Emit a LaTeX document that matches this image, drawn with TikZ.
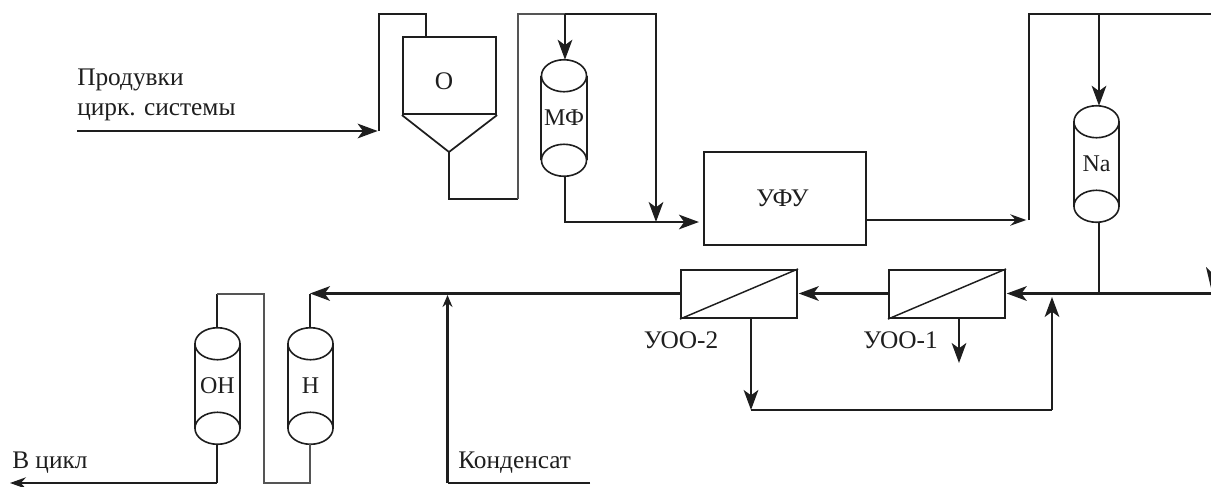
\documentclass[tikz,border=0pt]{standalone}
\usepackage{fontspec}
\setmainfont{Liberation Serif}
\usetikzlibrary{arrows.meta,calc}
\definecolor{ink}{HTML}{1E1E1E}
\definecolor{inksoft}{HTML}{555555}
\tikzset{
  px/.style={x=0.75pt,y=-0.75pt},
  pipe/.style={draw=ink,line width=1.6pt,line join=miter},
  thinpipe/.style={draw=ink,line width=1pt},
  softpipe/.style={draw=inksoft,line width=1.2pt},
  tipbig/.style={-{Stealth[length=15pt,width=11pt,inset=4pt]}},
  tipmid/.style={-{Stealth[length=12pt,width=8.5pt,inset=4pt]}},
  tipsmall/.style={-{Stealth[length=9pt,width=7.5pt,inset=3pt]}},
  apparatus/.style={draw=ink,line width=1.6pt,inner sep=0pt,fill=white},
  vessel/.style={inner sep=0pt,minimum width=33.75pt,minimum height=87pt,font=\fontsize{18pt}{22pt}\selectfont,text=ink},
  label/.style={inner sep=0pt,font=\fontsize{19pt}{23pt}\selectfont,text=ink},
  textleft/.style={label,anchor=west,align=left},
}
% name, centre x, centre y, text
\newcommand{\vesselunit}[4]{%
  \node[vessel] (#1) at (#2,#3) {#4};
  \draw[draw=ink,line width=1.2pt] (#1.north west) ++(0,-12pt) -- ++(0,-63pt);
  \draw[draw=ink,line width=1.2pt] (#1.north east) ++(0,-12pt) -- ++(0,-63pt);
  \draw[draw=ink,line width=1.2pt] ($(#1.north)+(0,-12pt)$) circle[x radius=16.9pt,y radius=12pt];
  \draw[draw=ink,line width=1.2pt] ($(#1.south)+(0,12pt)$) circle[x radius=16.9pt,y radius=12pt];
}
\begin{document}
\begin{tikzpicture}[px]
\useasboundingbox (0,0) rectangle (1211,486);
% apparatus
\node[apparatus,minimum width=69.75pt,minimum height=57.75pt] (settler) at (449.5,75.5) {};
\coordinate (apex) at (449,152);
\draw[draw=ink,line width=1.3pt,line join=round] (settler.south west) -- (apex) -- (settler.south east);
\node[apparatus,minimum width=121.5pt,minimum height=69.75pt] (ufu) at (785,198.5) {};
\node[apparatus,minimum width=87pt,minimum height=36pt] (roa) at (947,294) {};
\node[apparatus,minimum width=87pt,minimum height=36pt] (rob) at (739,294) {};
\draw[draw=ink,line width=1.1pt] (roa.south west) -- (roa.north east);
\draw[draw=ink,line width=1.1pt] (rob.south west) -- (rob.north east);
\vesselunit{mf}{564}{118}{МФ}
\vesselunit{na}{1096.5}{164}{Na}
\vesselunit{on}{217.5}{386}{ОН}
\vesselunit{h}{310.5}{386}{Н}
% labels
\node[label] (lo) at (444,81) {О};
\node[label] (lufu) at (782.5,198) {УФУ};
\node[textleft] (lin) at (77,95) {Продувки\\цирк. системы};
\node[label] (lroa) at (900.5,340) {УОО-1};
\node[label] (lrob) at (681,340) {УОО-2};
\node[textleft] (lcond) at (458,463) {Конденсат};
\node[textleft] (lout) at (12,463) {В цикл};
% coordinates
\coordinate (in0) at (77,131);
\coordinate (in1) at (379,131);
\coordinate (in2) at (379,14);
\coordinate (in3) at (426,14);
\coordinate (s1) at (449,199);
\coordinate (s2) at (518,199);
\coordinate (s3) at (518,14);
\coordinate (mftop) at (565,14);
\coordinate (by1) at (656,14);
\coordinate (by2) at (656,222);
\coordinate (mf1) at (565,222);
\coordinate (ufuin) at (ufu.west |- by2);
\coordinate (ufuout) at (866,220);
\coordinate (u1) at (1029,220);
\coordinate (u2) at (1029,14);
\coordinate (natop) at (1099,14);
\coordinate (right1) at (1211,14);
\coordinate (right2) at (1211,293.5);
\coordinate (najoin) at (1099,293.5);
\coordinate (hjoin) at (310,293.5);
\coordinate (cjoin) at (447.5,293.5);
\coordinate (c0) at (590,483);
\coordinate (c1) at (447.5,483);
\coordinate (loop1) at (217,294);
\coordinate (loop2) at (264,294);
\coordinate (loop3) at (264,483);
\coordinate (loop4) at (310,483);
\coordinate (out1) at (217,483);
\coordinate (out2) at (10,483);
\coordinate (r1) at (751,410);
\coordinate (r2) at (1052,410);
\coordinate (r3) at (1052,293.5);
\coordinate (d1) at (959,363);
% connectors
\draw[pipe,tipbig,shorten >=1pt] (in0) -- (in1);
\draw[pipe] (in1) -- (in2) -- (in3) -- (in3 |- settler.north);
\draw[pipe] (apex) -- (s1) -- (s2);
\draw[softpipe] (s2) -- (s3) -- (mftop);
\draw[pipe,tipbig] (mftop) -- (by1) -- (by2);
\draw[pipe,tipbig] (mftop) -- (mftop |- mf.north);
\draw[pipe] (mf1 |- mf.south) -- (mf1) -- (by2);
\draw[pipe,tipbig,shorten >=3pt] (by2) -- (ufuin);
\draw[pipe,tipmid,shorten >=2pt] (ufuout) -- (u1);
\draw[pipe] (u1) -- (u2) -- (right1);
\draw[pipe,tipbig] (natop) -- (natop |- na.north);
\draw[pipe] (najoin |- na.south) -- (najoin);
\draw[pipe] (right2) -- (r3);
\draw[pipe,tipbig,shorten >=0.5pt] (r3) -- (roa.east |- r3);
\draw[pipe,tipbig,shorten >=0.5pt] (roa.west |- r3) -- (rob.east |- r3);
\draw[pipe] (rob.west |- r3) -- (cjoin);
\draw[pipe,tipbig] (cjoin) -- (hjoin);
\draw[thinpipe] (hjoin) -- (h.north -| hjoin);
\draw[pipe] (c0) -- (c1);
\draw[pipe,tipsmall] (c1) -- ($(cjoin)+(0,1.5)$);
\draw[thinpipe] (on.north -| loop1) -- (loop1);
\draw[softpipe] (loop1) -- (loop2) -- (loop3) -- (loop4) -- (h.south -| loop4);
\draw[thinpipe] (on.south -| out1) -- (out1);
\draw[pipe,tipmid] (out1) -- (out2);
\draw[pipe,tipbig] (rob.south -| r1) -- (r1);
\draw[pipe] (r1) -- (r2);
\draw[pipe,tipbig] (r2) -- ($(r3)+(0,3.5)$);
\draw[pipe,tipbig] (roa.south -| d1) -- (d1);
% the clipped arrowhead at the right edge
\fill[ink] (1206,267) -- (1211,272) -- (1211,288) -- cycle;
\end{tikzpicture}
\end{document}
